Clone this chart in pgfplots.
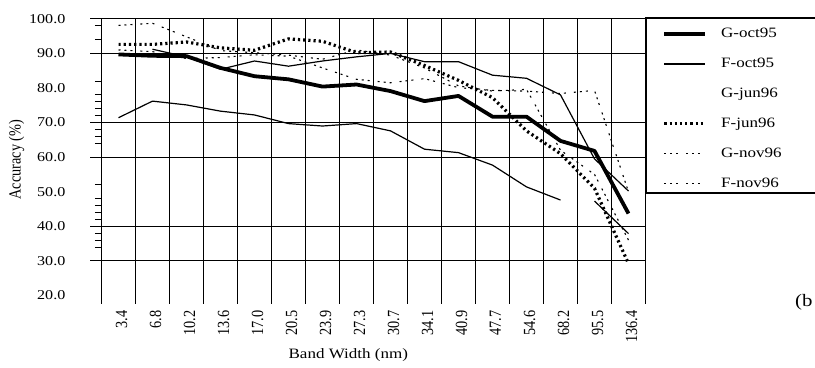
\documentclass[border=0pt]{standalone}
\usepackage{fontspec}
\setmainfont{Liberation Serif}
% widened face for horizontal text, narrowed face for text set upright
\newfontfamily\hfont{Liberation Serif}[FakeStretch=1.19]
\newfontfamily\vfont{Liberation Serif}[FakeStretch=0.84]
\usepackage{pgfplots}
\pgfplotsset{compat=1.18}

\begin{document}
\begin{tikzpicture}
\path[use as bounding box] (0bp,0bp) rectangle (815bp,368bp);
\begin{axis}[
  at={(101.5bp,72.5bp)}, anchor=south west,
  scale only axis, width=544bp, height=276.7bp,
  xmin=-0.5, xmax=15.5, ymin=20, ymax=100,
  axis x line*=bottom, axis y line*=left,
  axis line style={draw=none},
  tick align=outside,
  major tick length=0pt,
  minor tick length=6.5bp,
  tick style={black, line width=1bp},
  grid style={black, line width=1bp},
  xtick={0,...,15},
  xticklabels={3.4,6.8,10.2,13.6,17.0,20.5,23.9,27.3,30.7,34.1,40.9,47.7,54.6,68.2,95.5,136.4},
  extra x ticks={-0.5,0.5,...,15.5},
  extra x tick labels={},
  extra x tick style={grid=major, major tick length=8bp},
  ytick={20,30,...,100},
  extra y ticks={30,40,60,70,90,100},
  extra y tick labels={},
  extra y tick style={grid=major, major tick length=11bp},
  minor ytick={34,36,38,42,44,46,48,52,64,66,68,72,74,76,78,82,94,98},
  /pgf/number format/assume math mode=true,
  yticklabel style={font=\hfont\fontsize{13.5bp}{14bp}\selectfont,
    anchor=east, inner sep=0pt, xshift=-36bp,
    /pgf/number format/fixed, /pgf/number format/fixed zerofill,
    /pgf/number format/precision=1},
  xticklabel style={font=\vfont\fontsize{17bp}{17bp}\selectfont,
    inner sep=0pt, xshift=3bp, yshift=-15bp, rotate=90, anchor=east},
  xlabel={Band Width (nm)},
  xlabel style={font=\hfont\fontsize{14.3bp}{15bp}\selectfont,
    at={(axis description cs:0.4537,-0.2166)}, anchor=center},
  ylabel={Accuracy (\%)},
  ylabel style={font=\vfont\fontsize{17bp}{17bp}\selectfont,
    at={(axis description cs:-0.15625,0.491)}, anchor=center},
  legend cell align=left,
  legend style={at={(axis description cs:1.0307,0.9686)}, anchor=north west,
    draw=none, fill=none, inner xsep=0pt, inner ysep=0pt,
    row sep=16.9bp, column sep=14.4bp,
    font=\hfont\fontsize{14.3bp}{15bp}\selectfont,
    nodes={inner sep=0pt, text height=10bp, text depth=3bp}},
  legend image code/.code={\draw[#1] (0bp,0bp) -- (40.6bp,0bp);},
  every axis plot/.append style={sharp plot, line join=round, no markers, black},
]

% G-oct95
\addplot[line width=3.8bp] coordinates {
  (0,89.7) (1,89.3) (2,89.2) (3,85.8) (4,83.4) (5,82.5) (6,80.4) (7,81.0)
  (8,79.1) (9,76.2) (10,77.7) (11,71.7) (12,71.7) (13,64.7) (14,61.8) (15,43.7)};
\addlegendentry{G-oct95}

% F-oct95
\addplot[line width=1.2bp] coordinates {
  (1,91.2) (2,89.0) (3,85.4) (4,87.8) (5,86.3) (6,87.8) (7,89.0)
  (8,90.0) (9,87.6) (10,87.6) (11,83.7) (12,82.8) (13,78.0) (14,59.5) (15,50.2)};
\addlegendentry{F-oct95}

% G-jun96
\addplot[line width=1.2bp, legend image code/.code={}] coordinates {
  (0,71.4) (1,76.2) (2,75.1) (3,73.3) (4,72.2) (5,69.7) (6,69.0) (7,69.7)
  (8,67.6) (9,62.3) (10,61.3) (11,57.7) (12,51.4) (13,47.6)};
\addlegendentry{G-jun96}

% F-jun96
\addplot[line width=3.2bp, dash pattern=on 2.2bp off 3bp, line join=miter] coordinates {
  (0,92.6) (1,92.6) (2,93.3) (3,91.6) (4,90.9) (5,94.2) (6,93.5) (7,90.2)
  (8,90.4) (9,86.5) (10,82.2) (11,77.2) (12,67.6) (13,61.0) (14,51.0) (15,29.2)};
\addlegendentry{F-jun96}

% G-nov96
\addplot[line width=1.1bp, dash pattern=on 2bp off 4bp on 2bp off 4bp on 2bp off 8bp] coordinates {
  (0,98.1) (1,98.7) (2,94.8) (3,90.8) (4,90.2) (5,89.5) (6,88.3) (7,91.0)
  (8,89.5) (9,85.8) (10,80.6) (11,79.1) (12,79.6) (13,62.0) (14,55.0) (15,36.0)};
\addlegendentry{G-nov96}

% F-nov96
\addplot[line width=1.1bp, dash pattern=on 2bp off 4bp on 2bp off 4bp on 2bp off 8bp] coordinates {
  (0,91.0) (1,90.5) (2,88.5) (3,88.8) (4,89.6) (5,89.2) (6,85.8) (7,82.5)
  (8,81.5) (9,82.7) (10,80.1) (11,79.3) (12,79.1) (13,78.4) (14,79.3) (15,50.0)};
\addlegendentry{F-nov96}

% G-jun96, last two band widths
\addplot[line width=1.2bp, forget plot] coordinates {(14,47.3) (15,37.9)};
\end{axis}

% legend frame
\draw[line width=2bp] (815bp,350.2bp) -- (645.5bp,350.2bp) -- (645.5bp,175bp) -- (815bp,175bp);
\node[anchor=west, inner sep=0pt, font=\hfont\fontsize{17.5bp}{18bp}\selectfont] at (795bp,65.5bp) {(b};
\end{tikzpicture}
\end{document}
